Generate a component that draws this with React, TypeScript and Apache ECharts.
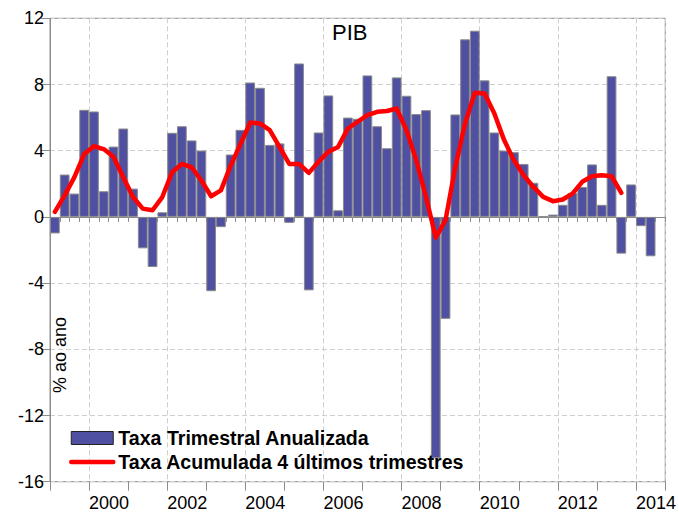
import React, { useEffect, useRef } from "react";
import * as echarts from "echarts";

const years = [1999, 2000, 2001, 2002, 2003, 2004, 2005, 2006, 2007, 2008, 2009, 2010, 2011, 2012, 2013, 2014];
const quarters = ["T1", "T2", "T3", "T4"];
const lastQuarterCount = 3; // 2014 axis runs through T3

const barValues: (number | null)[] = [
  -1.0, 2.56, 1.41, 6.47,
  6.37, 1.55, 4.25, 5.34,
  1.71, -1.9, -3.03, 0.28,
  5.08, 5.48, 4.62, 4.01,
  -4.49, -0.62, 3.77, 5.26,
  8.12, 7.8, 4.35, 4.44,
  -0.36, 9.27, -4.44, 5.1,
  7.34, 0.4, 6.0, 5.93,
  8.55, 5.48, 4.15, 8.43,
  7.32, 6.21, 6.45, -14.58,
  -6.16, 6.19, 10.73, 11.25,
  8.25, 5.1, 4.01, 3.91,
  3.2, 2.06, 0.03, 0.14,
  0.73, 1.45, 1.81, 3.17,
  0.73, 8.5, -2.22, 1.96,
  -0.56, -2.38, null,
];

const lineValues: (number | null)[] = [
  0.3, 1.3, 2.4, 3.8,
  4.27, 4.1, 3.63, 2.4,
  1.2, 0.5, 0.4, 1.2,
  2.7, 3.2, 3.0, 2.2,
  1.25, 1.6, 3.1, 4.4,
  5.7, 5.65, 5.24, 4.23,
  3.2, 3.2, 2.66, 3.33,
  3.93, 4.23, 5.34, 5.75,
  6.15, 6.35, 6.4, 6.55,
  5.24, 3.43, 1.2, -1.25,
  -0.2, 3.0, 5.65, 7.5,
  7.46, 6.25, 4.64, 3.43,
  2.52, 1.81, 1.21, 0.95,
  1.05, 1.41, 2.12, 2.46,
  2.52, 2.46, 1.45, null,
  null, null, null,
];

const yTicks = [-16, -12, -8, -4, 0, 4, 8, 12];
const title = "PIB";
const yName = "% ao ano";
const barName = "Taxa Trimestral Anualizada";
const lineName = "Taxa Acumulada 4 últimos trimestres";

const categories: string[] = [];
years.forEach((y, yi) => {
  const n = yi === years.length - 1 ? lastQuarterCount : 4;
  for (let q = 0; q < n; q++) categories.push(`${y}${quarters[q]}`);
});

const FONT = "'Liberation Sans', Arial, Helvetica, sans-serif";

export default function App() {
  const ref = useRef<HTMLDivElement>(null);
  useEffect(() => {
    if (!ref.current) return;
    const chart = echarts.init(ref.current, undefined, { renderer: "svg" });
    const yMin = yTicks[0];
    const yMax = yTicks[yTicks.length - 1];
    const xMin = years[0];
    const xMax = years[years.length - 1] + lastQuarterCount / 4;
    chart.setOption({
      animation: false,
      backgroundColor: "#ffffff",
      textStyle: { fontFamily: FONT },
      title: {
        text: title,
        left: 332,
        top: 21,
        padding: 0,
        textStyle: { fontSize: 22, fontWeight: "normal", color: "#000", fontFamily: FONT },
      },
      grid: {
        left: 50,
        right: 11.5,
        top: 18.3,
        bottom: 31.3,
        show: true,
        borderColor: "#8c8c8c",
        borderWidth: 1,
        containLabel: false,
      },
      legend: {
        orient: "vertical",
        left: 69,
        top: 428,
        padding: 0,
        itemWidth: 42,
        itemHeight: 13,
        itemGap: 4,
        textStyle: {
          fontSize: 19.6,
          fontWeight: "bold",
          color: "#000",
          fontFamily: FONT,
        },
        data: [
          { name: barName, icon: "rect", itemStyle: { borderColor: "#222", borderWidth: 1 } },
          {
            name: lineName,
            itemStyle: { opacity: 0 },
            lineStyle: { width: 4.5, color: "#ff0000" },
          },
        ],
      },
      xAxis: [
        {
          type: "category",
          data: categories,
          boundaryGap: true,
          position: "bottom",
          axisLine: { show: true, lineStyle: { color: "#8c8c8c", width: 1 } },
          axisTick: { show: true, length: 5, interval: 0, lineStyle: { color: "#8c8c8c" } },
          axisLabel: { show: false },
          splitLine: {
            show: true,
            interval: (i: number) => i % 8 === 4,
            lineStyle: { color: "#cfcfcf", type: [5, 3], width: 1 },
          },
        },
        {
          type: "value",
          min: xMin,
          max: xMax,
          interval: 1,
          position: "bottom",
          axisLine: { show: false },
          axisTick: { show: true, length: 9, lineStyle: { color: "#8c8c8c" } },
          splitLine: { show: false },
          axisLabel: {
            show: true,
            fontSize: 18,
            color: "#000",
            fontFamily: FONT,
            align: "left",
            margin: 12,
            showMinLabel: true,
            showMaxLabel: true,
            formatter: (v: number) => (Number.isInteger(v) && v % 2 === 0 ? String(v) : ""),
          },
        },
      ],
      yAxis: {
        type: "value",
        min: yMin,
        max: yMax,
        interval: 4,
        axisLine: { show: true, lineStyle: { color: "#8c8c8c" } },
        axisTick: { show: true, length: 9, lineStyle: { color: "#8c8c8c" } },
        axisLabel: { fontSize: 18, color: "#000", fontFamily: FONT, margin: 6 },
        splitLine: { show: true, lineStyle: { color: "#cfcfcf", type: [5, 3], width: 1 } },
      },
      series: [
        {
          name: barName,
          type: "bar",
          xAxisIndex: 0,
          data: barValues,
          barCategoryGap: "0%",
          itemStyle: { color: "#5050a2", borderColor: "#8a8a8a", borderWidth: 1 },
          z: 2,
        },
        {
          name: lineName,
          type: "line",
          xAxisIndex: 0,
          data: lineValues,
          symbol: "none",
          connectNulls: false,
          lineStyle: { color: "#ff0000", width: 4.5, join: "round", cap: "round" },
          itemStyle: { color: "#ff0000" },
          z: 3,
        },
      ],
      graphic: [
        {
          type: "text",
          x: 60,
          y: 355,
          rotation: Math.PI / 2,
          style: {
            text: yName,
            fontSize: 18,
            fontFamily: FONT,
            fill: "#000",
            align: "center",
            verticalAlign: "middle",
          },
          z: 10,
        },
      ],
    });
    return () => chart.dispose();
  }, []);
  return <div ref={ref} style={{ width: 679, height: 513, position: "absolute", left: 0, top: 0 }} />;
}
